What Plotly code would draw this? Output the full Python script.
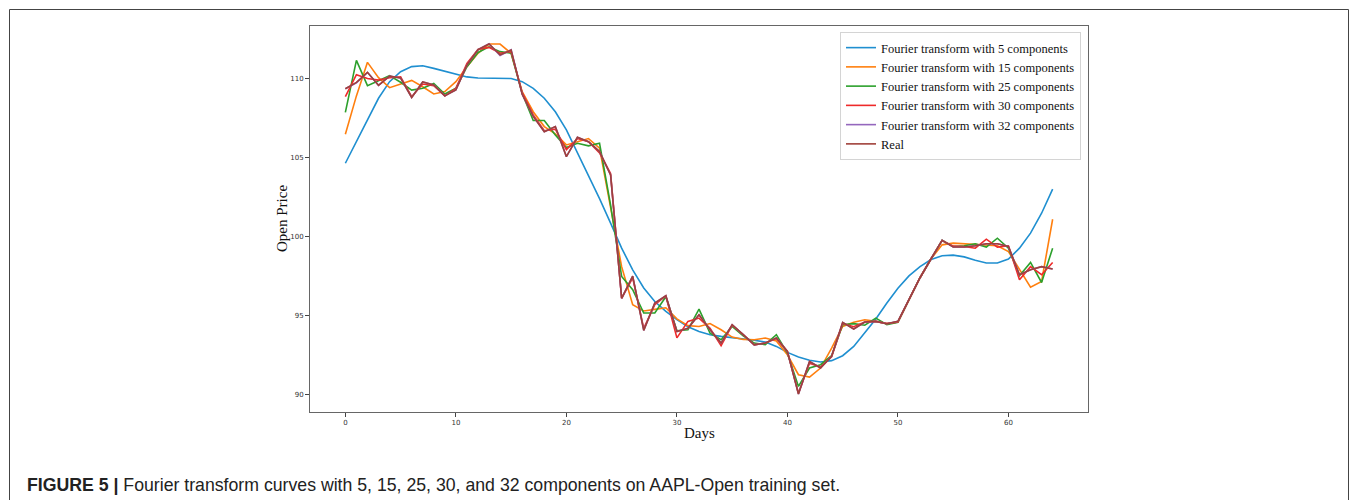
import plotly.graph_objects as go

days = list(range(65))

fourier_5 = [104.64, 106.0, 107.38, 108.75, 109.8, 110.43, 110.75, 110.81, 110.64, 110.47,
             110.28, 110.1, 110.03, 110.03, 110.03, 110.0, 109.8, 109.38, 108.75, 107.9,
             106.75, 105.3, 103.9, 102.4, 100.85, 99.27, 97.9, 96.75, 95.9, 95.27,
             94.75, 94.3, 94.0, 93.8, 93.69, 93.62, 93.54, 93.45, 93.33, 93.06,
             92.68, 92.39, 92.18, 92.07, 92.16, 92.47, 93.06, 93.9, 94.79, 95.8,
             96.74, 97.52, 98.1, 98.55, 98.79, 98.83, 98.72, 98.5, 98.33, 98.33,
             98.58, 99.27, 100.22, 101.48, 103.0]

fourier_15 = [106.47, 108.9, 111.02, 110.05, 109.42, 109.63, 109.88, 109.48, 109.02, 109.17,
              109.8, 110.75, 111.59, 112.18, 112.18, 111.59, 109.17, 107.9, 106.96, 106.5,
              105.8, 106.0, 106.2, 105.6, 101.9, 98.1, 95.7, 95.3, 95.4, 95.5,
              94.8, 94.37, 94.32, 94.5, 94.11, 93.65, 93.5, 93.48, 93.59, 93.4,
              92.53, 91.27, 91.12, 91.69, 92.95, 94.32, 94.58, 94.74, 94.64, 94.5,
              94.6, 96.0, 97.4, 98.6, 99.48, 99.59, 99.55, 99.48, 99.48, 99.42,
              99.06, 97.9, 96.8, 97.17, 101.1]

fourier_25 = [107.86, 111.15, 109.55, 109.85, 110.18, 109.76, 109.27, 109.38, 109.69, 109.02,
              109.38, 110.75, 111.65, 112.0, 111.7, 111.6, 109.06, 107.34, 107.34, 106.43,
              105.63, 105.9, 105.74, 105.9, 102.0, 97.48, 96.64, 95.17, 95.17, 96.2,
              94.05, 94.11, 95.42, 93.9, 93.48, 94.32, 93.73, 93.27, 93.17, 93.8,
              92.64, 90.53, 91.69, 91.9, 92.47, 94.43, 94.5, 94.4, 94.85, 94.43,
              94.58, 96.0, 97.4, 98.6, 99.76, 99.38, 99.42, 99.55, 99.34, 99.9,
              99.27, 97.53, 98.37, 97.1, 99.27]

fourier_30 = [108.85, 110.24, 110.0, 109.9, 110.05, 110.1, 108.85, 109.65, 109.54, 108.9,
              109.38, 110.96, 111.84, 111.97, 111.6, 111.7, 109.1, 107.7, 106.7, 106.8,
              105.5, 106.2, 106.0, 105.3, 104.0, 96.1, 97.4, 94.2, 95.7, 96.25,
              93.6, 94.64, 94.85, 94.2, 93.1, 94.4, 93.8, 93.16, 93.27, 93.55,
              92.74, 90.1, 92.0, 91.75, 92.4, 94.5, 94.3, 94.6, 94.64, 94.5,
              94.6, 96.0, 97.4, 98.6, 99.76, 99.4, 99.38, 99.27, 99.84, 99.34,
              99.42, 97.27, 98.1, 97.59, 98.37]

fourier_32 = [109.35, 109.72, 110.39, 109.57, 110.15, 110.03, 108.8, 109.78, 109.59, 108.9,
              109.27, 110.85, 111.82, 112.2, 111.45, 111.82, 109.0, 107.6, 106.64, 106.96,
              105.06, 106.28, 106.0, 105.38, 103.9, 96.1, 97.5, 94.07, 95.8, 96.26,
              94.0, 94.2, 95.06, 94.11, 93.27, 94.43, 93.8, 93.16, 93.27, 93.59,
              92.74, 90.05, 92.1, 91.69, 92.43, 94.58, 94.16, 94.6, 94.64, 94.49,
              94.64, 96.0, 97.4, 98.6, 99.76, 99.34, 99.34, 99.42, 99.55, 99.55,
              99.38, 97.59, 97.9, 98.1, 97.95]

real = [109.35, 109.75, 110.39, 109.57, 110.15, 110.03, 108.8, 109.78, 109.59, 108.9,
        109.27, 110.85, 111.82, 112.18, 111.5, 111.8, 109.0, 107.6, 106.64, 106.96,
        105.06, 106.28, 106.0, 105.38, 103.9, 96.1, 97.5, 94.07, 95.8, 96.26,
        94.0, 94.2, 95.06, 94.11, 93.27, 94.43, 93.8, 93.16, 93.27, 93.59,
        92.74, 90.05, 92.1, 91.69, 92.43, 94.58, 94.16, 94.6, 94.64, 94.49,
        94.64, 96.0, 97.4, 98.6, 99.76, 99.34, 99.34, 99.42, 99.55, 99.55,
        99.38, 97.59, 97.9, 98.1, 97.95]

series_names = ["Fourier transform with 5 components",
                "Fourier transform with 15 components",
                "Fourier transform with 25 components",
                "Fourier transform with 30 components",
                "Fourier transform with 32 components",
                "Real"]
series_values = [fourier_5, fourier_15, fourier_25, fourier_30, fourier_32, real]
colors = ["#1f8fd0", "#ff7f0e", "#2ca02c", "#ee2a2a", "#9467bd", "#a0403a"]

x_ticks = [0, 10, 20, 30, 40, 50, 60]
y_ticks = [90, 95, 100, 105, 110]

caption = ("<b>FIGURE 5 |</b> Fourier transform curves with 5, 15, 25, 30, and 32 "
           "components on AAPL-Open training set.")

W, H = 1357, 500
L, R, T, B = 310, 1088, 26, 412
pw, ph = R - L, B - T


def px(xp):
    return (xp - L) / pw


def py(yp):
    return (B - yp) / ph


fig = go.Figure()
for name, vals, col in zip(series_names, series_values, colors):
    fig.add_trace(go.Scatter(x=days, y=vals, mode="lines", name=name,
                             line=dict(color=col, width=1.6)))

fig.update_layout(
    width=W, height=H,
    margin=dict(l=L, r=W - R, t=T, b=H - B),
    paper_bgcolor="white", plot_bgcolor="white",
    showlegend=True,
    legend=dict(x=px(1081), y=py(32), xanchor="right", yanchor="top",
                bgcolor="white", bordercolor="#d4d4d4", borderwidth=1,
                font=dict(family="Liberation Serif", size=12.5, color="#111"),
                itemwidth=30, tracegroupgap=0),
    xaxis=dict(range=[-3.2, 67.2], tickvals=x_ticks, showgrid=False, zeroline=False,
               showline=True, linecolor="#666", linewidth=1, mirror=True,
               ticks="outside", ticklen=4, tickcolor="#444",
               tickfont=dict(family="DejaVu Sans", size=7, color="#333")),
    yaxis=dict(range=[88.91, 113.32], tickvals=y_ticks, showgrid=False, zeroline=False,
               showline=True, linecolor="#666", linewidth=1, mirror=True,
               ticks="outside", ticklen=4, tickcolor="#444",
               tickfont=dict(family="DejaVu Sans", size=7, color="#333")),
    font=dict(family="Liberation Serif"),
)

# axis titles
fig.add_annotation(x=px(699), y=py(433), xref="paper", yref="paper", text="Days",
                   showarrow=False, font=dict(family="Liberation Serif", size=15, color="#111"),
                   xanchor="center", yanchor="middle")
fig.add_annotation(x=px(282), y=py(219), xref="paper", yref="paper", text="Open Price",
                   showarrow=False, textangle=-90,
                   font=dict(family="Liberation Serif", size=15, color="#111"),
                   xanchor="center", yanchor="middle")

# caption
fig.add_annotation(x=px(25), y=py(485), xref="paper", yref="paper", text=caption,
                   showarrow=False, font=dict(family="Liberation Sans", size=17.7, color="#222"),
                   xanchor="left", yanchor="middle")

# outer frame
fig.add_shape(type="path", xref="paper", yref="paper",
              path=f"M {px(9.5)} {py(505)} L {px(9.5)} {py(9.5)} L {px(1348.5)} {py(9.5)} L {px(1348.5)} {py(505)}",
              line=dict(color="#444", width=1))

fig.write_html("out.html")
